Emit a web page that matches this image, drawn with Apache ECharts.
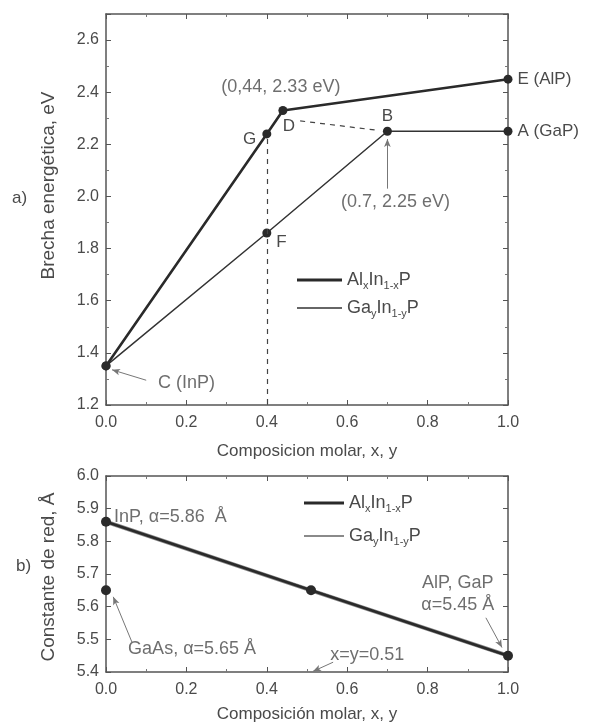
<!DOCTYPE html>
<html>
<head>
<meta charset="utf-8">
<script src="https://cdn.jsdelivr.net/npm/echarts@6/dist/echarts.min.js"></script>
<style>
  html, body { margin: 0; padding: 0; background: #fff; }
  #chart { width: 590px; height: 728px; }
</style>
</head>
<body>
<div id="chart"></div>
<script>
// a) brecha energetica
var compAl = [0, 0.4, 0.44, 1.0]
var gapAl = [1.35, 2.24, 2.33, 2.45]
var tagAl = ['', 'G', 'D', 'E (AlP)']
var compGa = [0, 0.4, 0.7, 1.0]
var gapGa = [1.35, 1.86, 2.25, 2.25]
var tagGa = ['', 'F', 'B', 'A (GaP)']
// b) constante de red
var compLat = [0, 0.51, 1.0]
var latAl = [5.86, 5.65, 5.45]
var latGa = [5.86, 5.65, 5.45]
var gaAs = [[0, 5.65]]
var xTicks = ['0.0', '0.2', '0.4', '0.6', '0.8', '1.0']

var ink = '#2a2a2a'
var txt = '#4a4a4a'
var font = 'Liberation Sans'

// where each point letter sits
var tagPlace = {
  G: { position: 'left', offset: [-1, 5] },
  D: { position: 'bottom', offset: [6, -2] },
  B: { position: 'top', offset: [0, 3] },
  F: { position: 'right', offset: [0, 9] }
}

function pts(xs, ys, tags) {
  return xs.map(function (x, i) {
    var t = tags ? tags[i] : ''
    var item = { value: [x, ys[i]], tag: t }
    if (tagPlace[t]) item.label = tagPlace[t]
    return item
  })
}

function axisX(grid, pos, name, gap) {
  return {
    type: 'value', gridIndex: grid, position: pos, min: 0, max: 1, interval: 0.2,
    name: name, nameLocation: 'middle', nameGap: gap,
    nameTextStyle: { color: txt, fontSize: 17, fontFamily: font },
    axisLine: { show: true, onZero: false, lineStyle: { color: '#555', width: 1.5 } },
    axisTick: { show: true, inside: true, length: 5, lineStyle: { color: '#555' } },
    minorTick: { show: true, splitNumber: 2, length: 3, lineStyle: { color: '#777' } },
    axisLabel: {
      show: !!name, color: txt, fontSize: 16, fontFamily: font, margin: 10,
      formatter: function (v) { return xTicks[Math.round(v * 5)] }
    },
    splitLine: { show: false }
  }
}

function axisY(grid, pos, min, max, step, name, gap, pad) {
  return {
    type: 'value', gridIndex: grid, position: pos, min: min, max: max, interval: step,
    name: name, nameLocation: 'middle', nameGap: gap, nameRotate: 90,
    nameTextStyle: { color: txt, fontSize: 19, fontFamily: font, padding: pad || 0 },
    axisLine: { show: true, onZero: false, lineStyle: { color: '#555', width: 1.5 } },
    axisTick: { show: true, inside: true, length: 5, lineStyle: { color: '#555' } },
    minorTick: { show: step > 0.15, splitNumber: 2, length: 3, lineStyle: { color: '#777' } },
    axisLabel: {
      show: !!name, color: txt, fontSize: 16, fontFamily: font, margin: 7,
      showMaxLabel: max - min < 1, formatter: function (v) { return v.toFixed(1) }
    },
    splitLine: { show: false }
  }
}

var noteStyle = { color: txt, fontSize: 18, fontFamily: font }
var arrowLine = { color: '#777', width: 1, type: 'solid' }

function legendBox(name, top, h, color) {
  return {
    left: name.left, top: top, orient: 'vertical', icon: 'rect',
    itemWidth: name.w, itemHeight: h, itemGap: 0,
    data: [{ name: name.n, itemStyle: { color: color } }],
    selectedMode: false,
    formatter: function (n) {
      return n === 'AlInP' ? '{n|Al}{s|x}{n|In}{s|1-x}{n|P}' : '{n|Ga}{s|y}{n|In}{s|1-y}{n|P}'
    },
    textStyle: {
      rich: {
        n: { color: txt, fontSize: 18, fontFamily: font },
        s: { color: txt, fontSize: 11, fontFamily: font, padding: [12, 0, 0, 0] }
      }
    }
  }
}

var chart = echarts.init(document.getElementById('chart'))
chart.setOption({
  backgroundColor: '#fff',
  animation: false,
  grid: [
    { left: 106, top: 14, width: 402, height: 391 },
    { left: 106, top: 476, width: 402, height: 196 }
  ],
  xAxis: [
    axisX(0, 'bottom', 'Composicion molar, x, y', 38),
    axisX(0, 'top', '', 0),
    axisX(1, 'bottom', 'Composición molar, x, y', 34),
    axisX(1, 'top', '', 0)
  ],
  yAxis: [
    axisY(0, 'left', 1.2, 2.7, 0.2, 'Brecha energética, eV', 48, [0, 0, 0, 48]),
    axisY(0, 'right', 1.2, 2.7, 0.2, '', 0),
    axisY(1, 'left', 5.4, 6.0, 0.1, 'Constante de red, Å', 48, [0, 6, 0, 0]),
    axisY(1, 'right', 5.4, 6.0, 0.1, '', 0)
  ],
  legend: [
    legendBox({ n: 'AlInP', left: 292, w: 45 }, 266, 3, ink),
    legendBox({ n: 'GaInP', left: 292, w: 45 }, 294, 1.5, '#333'),
    legendBox({ n: 'AlInP', left: 299, w: 40 }, 489, 3, ink),
    legendBox({ n: 'GaInP', left: 299, w: 40 }, 522, 2, '#8a8a8a')
  ],
  graphic: [
    { type: 'text', left: 12, top: 190, style: { text: 'a)', fill: txt, font: '17px ' + font } },
    { type: 'text', left: 16, top: 558, style: { text: 'b)', fill: txt, font: '17px ' + font } }
  ],
  series: [
    {
      name: 'GaInP', type: 'line', xAxisIndex: 0, yAxisIndex: 0,
      data: pts(compGa, gapGa, tagGa),
      symbol: 'circle', symbolSize: 9, itemStyle: { color: ink },
      lineStyle: { color: '#333', width: 1.5 },
      label: {
        show: true, position: 'right', distance: 5, color: txt, fontSize: 17, fontFamily: font,
        formatter: function (p) { return p.data.tag }
      },
      markLine: {
        silent: true, symbol: ['none', 'none'], label: { show: false },
        lineStyle: { color: '#444', width: 1.2, type: [5, 5] },
        data: [
          [{ coord: [0.4, 2.22] }, { coord: [0.4, 1.2] }],
          [{ coord: [0.483, 2.29] }, { coord: [0.669, 2.255] }]
        ]
      }
    },
    {
      name: 'AlInP', type: 'line', xAxisIndex: 0, yAxisIndex: 0,
      data: pts(compAl, gapAl, tagAl),
      symbol: 'circle', symbolSize: 9, itemStyle: { color: ink },
      lineStyle: { color: ink, width: 2.6 },
      label: {
        show: true, position: 'right', distance: 5, color: txt, fontSize: 17, fontFamily: font,
        formatter: function (p) { return p.data.tag }
      }
    },
    {
      // anotaciones del panel a)
      type: 'scatter', xAxisIndex: 0, yAxisIndex: 0, symbolSize: 0, silent: true,
      data: [
        { value: [0.435, 2.42], label: { formatter: '(0,44, 2.33 eV)', position: 'inside' } },
        { value: [0.72, 1.98], label: { formatter: '(0.7, 2.25 eV)', position: 'inside' } },
        { value: [0.2, 1.285], label: { formatter: 'C (InP)', position: 'inside' } }
      ],
      label: Object.assign({ show: true }, noteStyle),
      markLine: {
        silent: true, symbol: ['none', 'arrow'], symbolSize: [5, 8], label: { show: false },
        lineStyle: arrowLine,
        data: [
          [{ coord: [0.7, 2.03] }, { coord: [0.7, 2.22] }],
          [{ coord: [0.1, 1.295] }, { coord: [0.015, 1.335] }]
        ]
      }
    },
    {
      name: 'GaInP', type: 'line', xAxisIndex: 2, yAxisIndex: 2,
      data: pts(compLat, latGa), symbol: 'none',
      lineStyle: { color: '#8a8a8a', width: 4 }
    },
    {
      name: 'AlInP', type: 'line', xAxisIndex: 2, yAxisIndex: 2,
      data: pts(compLat, latAl), symbol: 'circle', symbolSize: 10,
      itemStyle: { color: ink }, lineStyle: { color: ink, width: 2.6 }
    },
    {
      type: 'scatter', xAxisIndex: 2, yAxisIndex: 2,
      data: gaAs, symbol: 'circle', symbolSize: 10, itemStyle: { color: ink, opacity: 1 }
    },
    {
      // anotaciones del panel b)
      type: 'scatter', xAxisIndex: 2, yAxisIndex: 2, symbolSize: 0, silent: true,
      data: [
        { value: [0.02, 5.875], label: { formatter: 'InP, α=5.86  Å', position: 'right' } },
        { value: [0.055, 5.47], label: { formatter: 'GaAs, α=5.65 Å', position: 'right' } },
        { value: [0.65, 5.452], label: { formatter: 'x=y=0.51', position: 'inside' } },
        { value: [0.875, 5.672], label: { formatter: 'AlP, GaP', position: 'inside' } },
        { value: [0.875, 5.605], label: { formatter: 'α=5.45 Å', position: 'inside' } }
      ],
      label: Object.assign({ show: true, distance: 0 }, noteStyle),
      markLine: {
        silent: true, symbol: ['none', 'arrow'], symbolSize: [5, 8], label: { show: false },
        lineStyle: arrowLine,
        data: [
          [{ coord: [0.065, 5.49] }, { coord: [0.018, 5.63] }],
          [{ coord: [0.565, 5.43] }, { coord: [0.515, 5.402] }],
          [{ coord: [0.945, 5.566] }, { coord: [0.985, 5.475] }]
        ]
      }
    }
  ]
})
</script>
</body>
</html>
